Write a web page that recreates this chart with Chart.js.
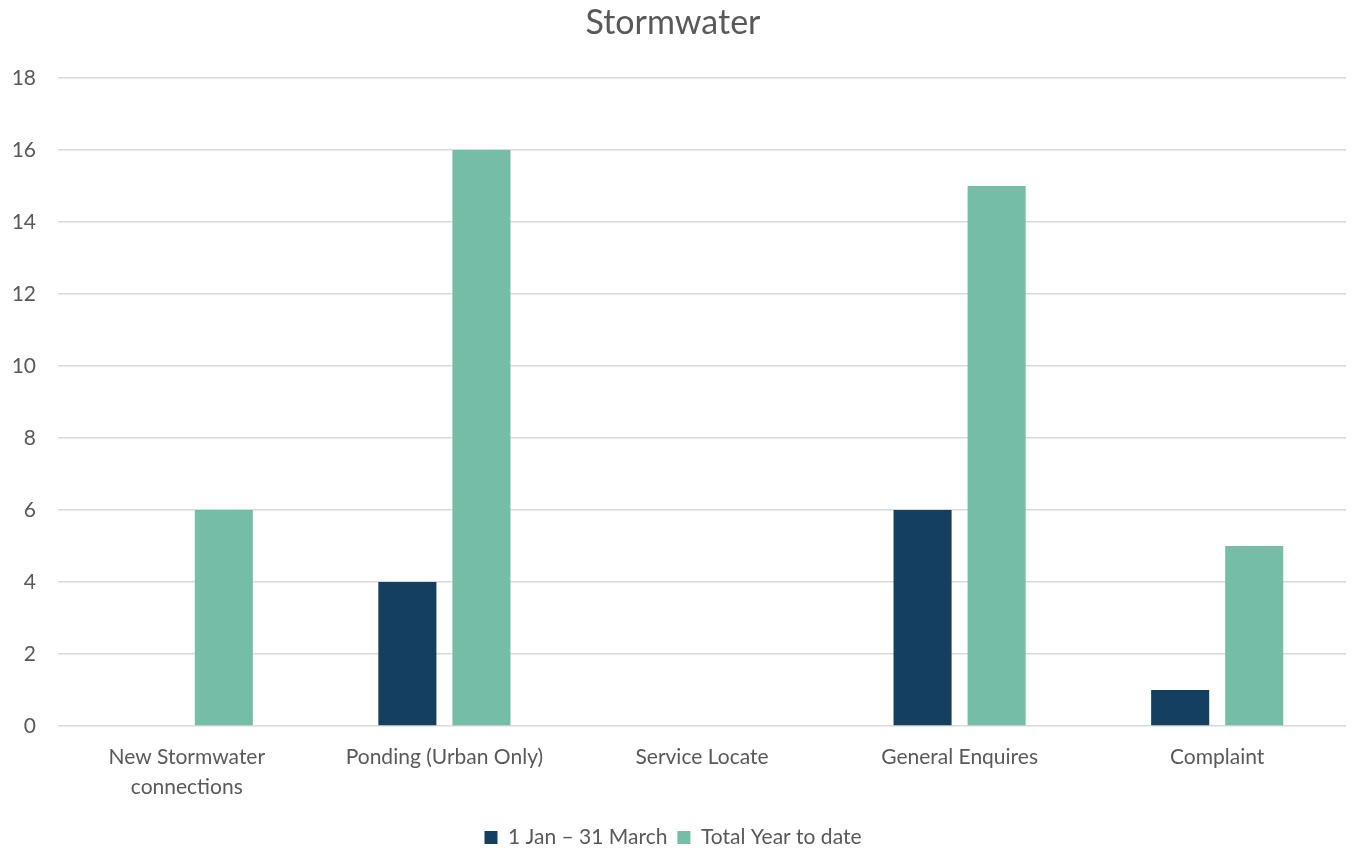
<!DOCTYPE html>
<html>
<head>
<meta charset="utf-8">
<script src="https://cdn.jsdelivr.net/npm/chart.js@4/dist/chart.umd.min.js"></script>
<style>
  html, body { margin: 0; padding: 0; background: #ffffff; }
  #wrap { width: 1357px; height: 849px; position: relative; }
</style>
</head>
<body>
<div id="wrap"><canvas id="chart"></canvas></div>
<script>
const categories = [
  ["New Stormwater", "connections"],
  "Ponding (Urban Only)",
  "Service Locate",
  "General Enquires",
  "Complaint"
];
const quarterValues = [0, 4, 0, 6, 1];
const yearToDateValues = [6, 16, 0, 15, 5];
const seriesNames = ["1 Jan \u2013 31 March", "Total Year to date"];

const textColor = "#595959";
const fontFamily = "Lato, 'Open Sans', sans-serif";

new Chart(document.getElementById("chart"), {
  type: "bar",
  data: {
    labels: categories,
    datasets: [
      {
        label: seriesNames[0],
        data: quarterValues,
        backgroundColor: "#143F60",
        categoryPercentage: 0.575,
        barPercentage: 0.784
      },
      {
        label: seriesNames[1],
        data: yearToDateValues,
        backgroundColor: "#76BDA7",
        categoryPercentage: 0.575,
        barPercentage: 0.784
      }
    ]
  },
  options: {
    responsive: true,
    maintainAspectRatio: false,
    animation: false,
    layout: { padding: { left: 0, right: 11, top: 0, bottom: -9 } },
    plugins: {
      title: {
        display: true,
        text: "Stormwater",
        color: textColor,
        font: { family: fontFamily, size: 34, weight: "normal", lineHeight: 1.2 },
        padding: { top: 3, bottom: 34.2 }
      },
      legend: {
        position: "bottom",
        labels: {
          color: textColor,
          font: { family: fontFamily, size: 21 },
          boxWidth: 13,
          boxHeight: 13,
          padding: 10
        }
      },
      tooltip: { enabled: false }
    },
    scales: {
      x: {
        grid: { display: false },
        border: { display: false },
        ticks: {
          color: textColor,
          font: { family: fontFamily, size: 21, lineHeight: 1.43 },
          maxRotation: 0,
          padding: 8
        },
        afterFit(scale) { scale.height = 91; }
      },
      y: {
        min: 0,
        max: 18,
        ticks: {
          stepSize: 2,
          color: textColor,
          font: { family: fontFamily, size: 21 },
          padding: 22
        },
        grid: { color: "#D9D9D9", lineWidth: 1.5, drawTicks: false },
        border: { display: false },
        afterFit(scale) { scale.width = 58; }
      }
    }
  }
});
</script>
</body>
</html>
